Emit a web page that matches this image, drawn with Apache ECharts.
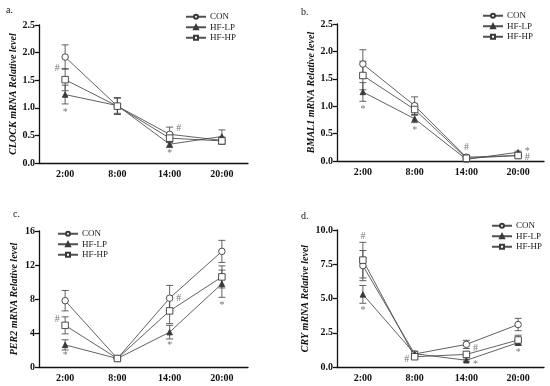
<!DOCTYPE html>
<html><head><meta charset="utf-8">
<script src="https://cdn.jsdelivr.net/npm/echarts@6/dist/echarts.min.js"></script>
<style>html,body{margin:0;padding:0;background:#fff}#c{width:550px;height:386px}</style>
</head><body><div id="c"></div>
<script>
const cats = ['2:00', '8:00', '14:00', '20:00'];
const groups = ['CON', 'HF-LP', 'HF-HP'];

// a. CLOCK
const clockCON = [1.92, 1.03, 0.52, 0.41];
const clockCONErr = [0.22, 0.15, 0.13, 0.06];
const clockLP = [1.24, 1.04, 0.34, 0.48];
const clockLPErr = [0.17, 0.14, 0.06, 0.12];
const clockHP = [1.51, 1.03, 0.45, 0.40];
const clockHPErr = [0.20, 0.15, 0.08, 0.06];
const clockMarks = [[0, 1.72, '#', 'L'], [0, 0.92, '*', 'C'], [2, 0.62, '#', 'R'], [2, 0.18, '*', 'C']];

// b. BMAL1
const bmalCON = [1.77, 1.01, 0.07, 0.10];
const bmalCONErr = [0.26, 0.16, 0.02, 0.02];
const bmalLP = [1.26, 0.77, 0.03, 0.16];
const bmalLPErr = [0.17, 0.07, 0.01, 0.02];
const bmalHP = [1.56, 0.94, 0.05, 0.10];
const bmalHPErr = [0.26, 0.10, 0.02, 0.02];
const bmalMarks = [[0, 0.95, '*', 'C'], [1, 0.55, '*', 'C'], [2, 0.24, '#', 'C'], [3, 0.18, '*', 'R'], [3, 0.07, '#', 'R']];

// c. PER2
const per2CON = [7.8, 1.0, 8.1, 13.6];
const per2CONErr = [1.2, 0.15, 1.5, 1.3];
const per2LP = [2.6, 1.0, 4.1, 9.8];
const per2LPErr = [0.6, 0.1, 0.8, 1.6];
const per2HP = [4.9, 1.0, 6.6, 10.6];
const per2HPErr = [1.0, 0.1, 1.5, 1.3];
const per2Marks = [[0, 5.65, '#', 'L'], [0, 1.4, '*', 'C'], [2, 8.1, '#', 'R'], [2, 2.6, '*', 'C'], [3, 7.3, '*', 'C']];

// d. CRY
const cryCON = [7.4, 0.95, 1.65, 3.1];
const cryCONErr = [1.1, 0.2, 0.3, 0.45];
const cryLP = [5.3, 0.97, 0.49, 1.78];
const cryLPErr = [0.65, 0.15, 0.08, 0.2];
const cryHP = [7.8, 0.75, 0.92, 1.97];
const cryHPErr = [1.3, 0.15, 0.2, 0.35];
const cryMarks = [[0, 9.56, '#', 'C'], [0, 4.16, '*', 'C'], [1, 0.58, '#', 'L'], [2, 1.39, '#', 'R'], [2, 0.22, '*', 'R'], [3, 1.1, '*', 'C']];

const panelLabels = ['a.', 'b.', 'c.', 'd.'];
const yTitles = ['CLOCK mRNA Relative level', 'BMAL1 mRNA Relative level', 'PER2 mRNA Relative level', 'CRY mRNA Relative level'];

const panels = [
  {vals: [clockCON, clockLP, clockHP], errs: [clockCONErr, clockLPErr, clockHPErr], marks: clockMarks, max: 2.5, interval: 0.5, dec: 1},
  {vals: [bmalCON, bmalLP, bmalHP], errs: [bmalCONErr, bmalLPErr, bmalHPErr], marks: bmalMarks, max: 2.5, interval: 0.5, dec: 1},
  {vals: [per2CON, per2LP, per2HP], errs: [per2CONErr, per2LPErr, per2HPErr], marks: per2Marks, max: 16, interval: 4, dec: 0},
  {vals: [cryCON, cryLP, cryHP], errs: [cryCONErr, cryLPErr, cryHPErr], marks: cryMarks, max: 10, interval: 2.5, dec: 1}
];

const FONT = 'Liberation Serif, Times New Roman, serif';
const LINE = '#505050';
const SYM = '#3a3a3a';

const gridPos = [
  {left: 39, top: 25, width: 209, height: 138},
  {left: 337, top: 24, width: 207, height: 137},
  {left: 39, top: 231, width: 209, height: 136},
  {left: 337, top: 230, width: 207, height: 137}
];
const legendPos = [
  {left: 185, top: 12}, {left: 482, top: 11}, {left: 57, top: 229}, {left: 491, top: 221}
];
const labelPos = [[6, 5], [301, 7], [13, 209], [301, 211]];
const nameGaps = [19, 21, 20, 27];

const symbols = ['circle', 'triangle', 'rect'];
const symSizes = [6.5, 5.5, 6.5];
const symFills = ['#fff', SYM, '#fff'];

const option = {
  animation: false,
  backgroundColor: '#fff',
  grid: gridPos,
  legend: legendPos.map((p, i) => ({
    left: p.left, top: p.top, orient: 'vertical', data: groups,
    itemWidth: 20, itemHeight: 5, itemGap: 1, padding: 0,
    textStyle: {fontFamily: FONT, fontSize: 9, lineHeight: 9.5, color: '#222', padding: [0, 0, 0, -1]},
    inactiveColor: '#ccc'
  })),
  graphic: panelLabels.map((t, i) => ({
    type: 'text', left: labelPos[i][0], top: labelPos[i][1],
    style: {text: t, fontFamily: FONT, fontSize: 10, fill: '#111'}
  })),
  xAxis: panels.map((p, i) => ({
    type: 'category', gridIndex: i, data: cats, boundaryGap: true,
    axisLine: {lineStyle: {color: '#111', width: 1.3}},
    axisTick: {alignWithLabel: true, length: 4, lineStyle: {color: '#111', width: 1.3}},
    axisLabel: {fontFamily: FONT, fontSize: 10, fontWeight: 'bold', color: '#111', margin: 6}
  })),
  yAxis: panels.map((p, i) => ({
    type: 'value', gridIndex: i, min: 0, max: p.max, interval: p.interval,
    name: yTitles[i], nameLocation: 'middle', nameGap: nameGaps[i],
    nameTextStyle: {fontFamily: FONT, fontSize: 10, fontWeight: 'bold', fontStyle: 'italic', color: '#111'},
    splitLine: {show: false},
    axisLine: {show: true, lineStyle: {color: '#111', width: 1.3}},
    axisTick: {show: true, length: 4, lineStyle: {color: '#111', width: 1.3}},
    axisLabel: {fontFamily: FONT, fontSize: 10, fontWeight: 'bold', color: '#111', margin: 4,
      formatter: v => v.toFixed(p.dec)}
  })),
  series: []
};

panels.forEach((p, pi) => {
  groups.forEach((g, gi) => {
    option.series.push({
      type: 'custom', name: g + ' SEM', xAxisIndex: pi, yAxisIndex: pi, z: 1,
      data: p.vals[gi].map((v, k) => [k, v - p.errs[gi][k], v + p.errs[gi][k]]),
      renderItem: (params, api) => {
        const lo = api.coord([api.value(0), api.value(1)]);
        const hi = api.coord([api.value(0), api.value(2)]);
        const c = 3.5;
        const st = {stroke: LINE, lineWidth: 0.9};
        return {type: 'group', children: [
          {type: 'line', shape: {x1: lo[0], y1: lo[1], x2: hi[0], y2: hi[1]}, style: st},
          {type: 'line', shape: {x1: lo[0] - c, y1: lo[1], x2: lo[0] + c, y2: lo[1]}, style: st},
          {type: 'line', shape: {x1: hi[0] - c, y1: hi[1], x2: hi[0] + c, y2: hi[1]}, style: st}
        ]};
      }
    });
  });
  groups.forEach((g, gi) => {
    option.series.push({
      type: 'line', name: g, xAxisIndex: pi, yAxisIndex: pi, z: 3,
      data: p.vals[gi],
      symbol: symbols[gi], symbolSize: symSizes[gi], showAllSymbol: true,
      lineStyle: {color: LINE, width: 0.9},
      itemStyle: {color: symFills[gi], borderColor: SYM, borderWidth: 0.9},
      color: SYM
    });
  });
  option.series.push({
    type: 'custom', name: 'marks' + pi, xAxisIndex: pi, yAxisIndex: pi, z: 4, silent: true,
    data: p.marks,
    renderItem: (params, api) => {
      const pt = api.coord([api.value(0), api.value(1)]);
      const m = p.marks[params.dataIndex];
      const dx = m[3] === 'L' ? -8 : (m[3] === 'R' ? 9 : 0);
      return {type: 'text', style: {text: m[2], x: pt[0] + dx, y: pt[1],
        align: 'center', verticalAlign: 'middle', fontFamily: FONT, fontSize: 10, fill: '#777'}};
    }
  });
});

const chart = echarts.init(document.getElementById('c'), null, {renderer: 'canvas'});
chart.setOption(option);
</script>
</body></html>
